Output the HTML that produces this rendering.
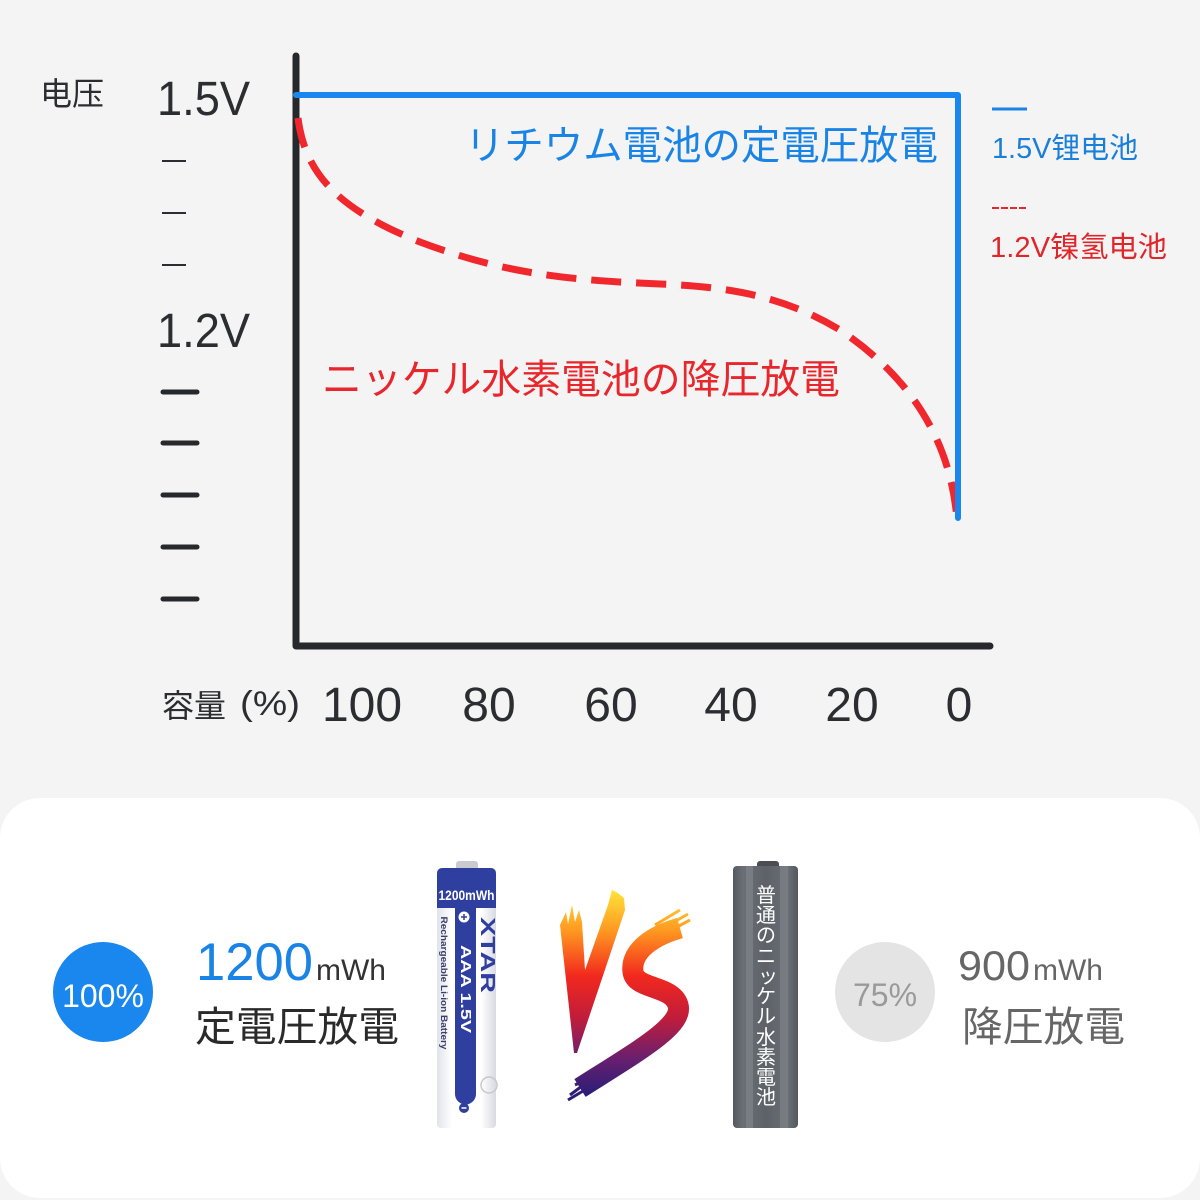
<!DOCTYPE html>
<html>
<head>
<meta charset="utf-8">
<style>
html,body{margin:0;padding:0;background:#f4f4f4;}
svg{display:block;}
</style>
</head>
<body>
<svg width="1200" height="1200" viewBox="0 0 1200 1200" xmlns="http://www.w3.org/2000/svg">
<defs>
  <linearGradient id="vs" x1="0" y1="890" x2="0" y2="1095" gradientUnits="userSpaceOnUse">
    <stop offset="0" stop-color="#ffe43a"/>
    <stop offset="0.2" stop-color="#ff9820"/>
    <stop offset="0.42" stop-color="#f2281e"/>
    <stop offset="0.62" stop-color="#c21d3a"/>
    <stop offset="0.82" stop-color="#6a1f6e"/>
    <stop offset="1" stop-color="#2a1d78"/>
  </linearGradient>
  <linearGradient id="body" x1="437" y1="0" x2="496" y2="0" gradientUnits="userSpaceOnUse">
    <stop offset="0" stop-color="#e2e3ea"/>
    <stop offset="0.25" stop-color="#ffffff"/>
    <stop offset="0.75" stop-color="#ffffff"/>
    <stop offset="1" stop-color="#d8d9e2"/>
  </linearGradient>
  <linearGradient id="gray" x1="733" y1="0" x2="798" y2="0" gradientUnits="userSpaceOnUse">
    <stop offset="0" stop-color="#55595f"/>
    <stop offset="0.15" stop-color="#6a6f76"/>
    <stop offset="0.5" stop-color="#5d6268"/>
    <stop offset="0.85" stop-color="#6a6f76"/>
    <stop offset="1" stop-color="#53575d"/>
  </linearGradient>
</defs>

<rect x="0" y="0" width="1200" height="1200" fill="#f4f4f4"/>
<rect x="0" y="798" width="1200" height="400" rx="40" ry="40" fill="#ffffff"/>

<!-- y axis labels -->
<text x="40" y="105" font-family="Liberation Sans, Noto Sans CJK SC, sans-serif" font-size="32" fill="#2b2d31">电压</text>
<text x="157" y="115" font-family="Liberation Sans, sans-serif" font-size="48" fill="#2b2d31" textLength="93" lengthAdjust="spacingAndGlyphs">1.5V</text>
<text x="157" y="347" font-family="Liberation Sans, sans-serif" font-size="48" fill="#2b2d31" textLength="93" lengthAdjust="spacingAndGlyphs">1.2V</text>

<g stroke="#2b2d31" stroke-width="2">
  <line x1="162" y1="161" x2="186" y2="161"/>
  <line x1="162" y1="213" x2="186" y2="213"/>
  <line x1="162" y1="265" x2="186" y2="265"/>
</g>
<g stroke="#26282c" stroke-width="5" stroke-linecap="round">
  <line x1="163" y1="392" x2="197" y2="392"/>
  <line x1="163" y1="443" x2="197" y2="443"/>
  <line x1="163" y1="495" x2="197" y2="495"/>
  <line x1="163" y1="547" x2="197" y2="547"/>
  <line x1="163" y1="599" x2="197" y2="599"/>
</g>

<!-- axes -->
<path d="M296,56 V646 H990" fill="none" stroke="#26282c" stroke-width="7" stroke-linecap="round" stroke-linejoin="round"/>

<!-- red dashed curve -->
<path d="M298,118 C305,175 340,210 420,242 C500,272 560,280 660,284 C740,287 790,300 840,330 C900,370 950,430 957,520"
      fill="none" stroke="#f0282d" stroke-width="7" stroke-dasharray="30 15"/>

<!-- blue line -->
<path d="M296,95 H958 V518" fill="none" stroke="#1a87ef" stroke-width="6" stroke-linejoin="round" stroke-linecap="round"/>

<!-- chart texts -->
<text x="465" y="159" font-family="Liberation Sans, Noto Sans CJK JP, sans-serif" font-size="40" fill="#1a84e6" textLength="473" lengthAdjust="spacingAndGlyphs">リチウム電池の定電圧放電</text>
<text x="322" y="393" font-family="Liberation Sans, Noto Sans CJK JP, sans-serif" font-size="40" fill="#e8262b" textLength="518" lengthAdjust="spacingAndGlyphs">ニッケル水素電池の降圧放電</text>

<!-- legend -->
<line x1="992" y1="109" x2="1027" y2="109" stroke="#1a84e6" stroke-width="3"/>
<text x="992" y="158" font-family="Liberation Sans, Noto Sans CJK SC, sans-serif" font-size="29" fill="#1a7fd8" textLength="146" lengthAdjust="spacingAndGlyphs">1.5V锂电池</text>
<line x1="992" y1="208" x2="1027" y2="208" stroke="#e8262b" stroke-width="2" stroke-dasharray="7 2"/>
<text x="990" y="257" font-family="Liberation Sans, Noto Sans CJK SC, sans-serif" font-size="29" fill="#e0262b" textLength="177" lengthAdjust="spacingAndGlyphs">1.2V镍氢电池</text>

<!-- x axis labels -->
<text x="162" y="717" font-family="Liberation Sans, Noto Sans CJK JP, sans-serif" font-size="32" fill="#2b2d31">容量</text>
<text x="240" y="715" font-family="Liberation Sans, sans-serif" font-size="34" fill="#2b2d31" textLength="60" lengthAdjust="spacingAndGlyphs">(%)</text>
<g font-family="Liberation Sans, sans-serif" font-size="48" fill="#2b2d31" text-anchor="middle">
  <text x="362" y="721">100</text>
  <text x="489" y="721">80</text>
  <text x="611" y="721">60</text>
  <text x="731" y="721">40</text>
  <text x="852" y="721">20</text>
  <text x="959" y="721">0</text>
</g>

<!-- bottom left -->
<circle cx="103" cy="992" r="50" fill="#1a87ef"/>
<text x="103" y="1007" text-anchor="middle" font-family="Liberation Sans, sans-serif" font-size="32" fill="#ffffff">100%</text>
<text x="196" y="980" font-family="Liberation Sans, sans-serif" font-size="53" fill="#1a84e6" textLength="117" lengthAdjust="spacingAndGlyphs">1200</text>
<text x="316" y="980" font-family="Liberation Sans, sans-serif" font-size="30" fill="#333333" textLength="70" lengthAdjust="spacingAndGlyphs">mWh</text>
<text x="195" y="1041" font-family="Liberation Sans, Noto Sans CJK JP, sans-serif" font-size="41" fill="#2a2a2a" textLength="204" lengthAdjust="spacingAndGlyphs">定電圧放電</text>

<!-- bottom right -->
<circle cx="885" cy="992" r="50" fill="#e4e4e4"/>
<text x="885" y="1006" text-anchor="middle" font-family="Liberation Sans, sans-serif" font-size="32" fill="#9a9a9a">75%</text>
<text x="958" y="980" font-family="Liberation Sans, sans-serif" font-size="42" fill="#666666" textLength="72" lengthAdjust="spacingAndGlyphs">900</text>
<text x="1033" y="980" font-family="Liberation Sans, sans-serif" font-size="30" fill="#666666" textLength="70" lengthAdjust="spacingAndGlyphs">mWh</text>
<text x="962" y="1041" font-family="Liberation Sans, Noto Sans CJK JP, sans-serif" font-size="41" fill="#666666" textLength="163" lengthAdjust="spacingAndGlyphs">降圧放電</text>

<!-- left battery -->
<rect x="456" y="861" width="22" height="9" rx="3" fill="#c9cad0"/>
<rect x="437" y="868" width="59" height="260" rx="4" fill="url(#body)"/>
<path d="M437,873 a5,5 0 0 1 5,-5 h49 a5,5 0 0 1 5,5 v35 h-59 z" fill="#2f3f9f"/>
<path d="M455,905 V1094 a10.5,10.5 0 0 0 21,0 V905 z" fill="#2f3f9f"/>
<text x="466.5" y="900" text-anchor="middle" font-family="Liberation Sans, sans-serif" font-weight="bold" font-size="14" fill="#ffffff" textLength="56" lengthAdjust="spacingAndGlyphs">1200mWh</text>
<circle cx="464" cy="917" r="5.5" fill="#ffffff"/>
<path d="M461,917 h6 M464,914 v6" stroke="#2f3f9f" stroke-width="1.5"/>
<circle cx="464" cy="1108" r="5" fill="#2f3f9f"/>
<path d="M461.5,1108 h5" stroke="#ffffff" stroke-width="1.5"/>
<text x="466" y="994" text-anchor="middle" transform="rotate(90 466 989)" font-family="Liberation Sans, sans-serif" font-weight="bold" font-size="15" fill="#ffffff" textLength="88" lengthAdjust="spacingAndGlyphs">AAA    1.5V</text>
<text x="488" y="962" text-anchor="middle" transform="rotate(90 488 955)" font-family="Liberation Sans, sans-serif" font-weight="bold" font-size="20" fill="#2f3f9f" textLength="76" lengthAdjust="spacingAndGlyphs">XTAR</text>
<text x="444" y="986" text-anchor="middle" transform="rotate(90 444 983)" font-family="Liberation Sans, sans-serif" font-weight="bold" font-size="9" fill="#3a3f6a" textLength="133" lengthAdjust="spacingAndGlyphs">Rechargeable Li-ion Battery</text>
<circle cx="489" cy="1085" r="8" fill="none" stroke="#c8c8cc" stroke-width="1.5"/>

<!-- VS logo -->
<g fill="url(#vs)">
  <path d="M560,925 L566,912 L568,924 L572,905 L575,922 L579,910 L582,922 L585,970 L608,905 L612,890 L618,893 L624,898 L625,910 L577,1053 L574,1053 Z"/>
  <path d="M680,928 C655,935 630,950 633,972 C636,990 672,985 678,1005 C684,1025 640,1050 580,1088" fill="none" stroke="url(#vs)" stroke-width="21"/>
  <path d="M660,930 L688,914 M662,935 L690,920 M655,925 L680,910" stroke="url(#vs)" stroke-width="3" fill="none"/>
  <path d="M590,1080 L570,1095 M595,1075 L575,1085 M588,1088 L568,1100" stroke="url(#vs)" stroke-width="3" fill="none"/>
</g>

<!-- gray battery -->
<rect x="757" y="861" width="22" height="8" rx="3" fill="#4a4d52"/>
<rect x="733" y="866" width="65" height="262" rx="4" fill="url(#gray)"/>
<rect x="746" y="866" width="7" height="262" fill="#7d828a" opacity="0.8"/>
<rect x="780" y="866" width="8" height="262" fill="#7a7f86" opacity="0.8"/>
<g font-family="Liberation Sans, Noto Sans CJK JP, sans-serif" font-size="20" fill="#ffffff" text-anchor="middle">
  <text x="766" y="902">普</text>
  <text x="766" y="922">通</text>
  <text x="766" y="942">の</text>
  <text x="766" y="963">ニ</text>
  <text x="768" y="983">ッ</text>
  <text x="766" y="1003">ケ</text>
  <text x="766" y="1023">ル</text>
  <text x="766" y="1044">水</text>
  <text x="766" y="1064">素</text>
  <text x="766" y="1084">電</text>
  <text x="766" y="1104">池</text>
</g>
</svg>
</body>
</html>
